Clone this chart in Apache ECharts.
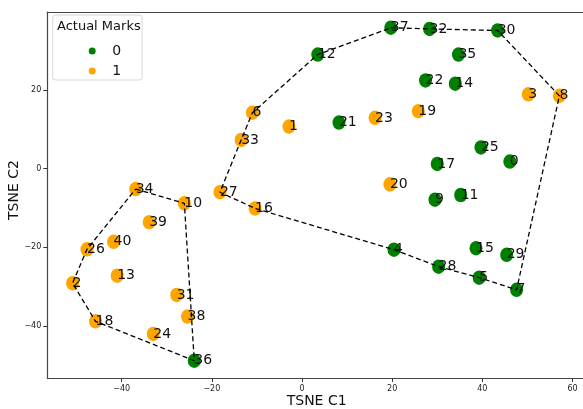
<!DOCTYPE html>
<html><head><meta charset="utf-8">
<script src="https://cdn.jsdelivr.net/npm/echarts@6/dist/echarts.min.js"></script>
<style>html,body{margin:0;padding:0;background:#fff}#c{width:583px;height:409px}</style>
</head><body><div id="c"></div>
<script>
// point id = index
const pointX = [46.1,-2.9,-50.9,50.2,20.4,39.3,-11.0,47.6,57.1,29.5,-26.1,35.2,3.5,-41.0,34.0,38.6,-10.4,30.0,-45.8,25.8,19.5,8.2,27.4,16.2,-33.0,39.7,-47.7,-18.2,30.3,45.4,43.4,-27.8,28.3,-13.5,-36.9,34.7,-23.9,19.7,-25.4,-33.9,-41.8];
const pointY = [1.8,10.7,-29.1,18.9,-20.6,-27.7,14.2,-30.8,18.5,-7.9,-8.8,-6.7,29.0,-27.2,21.6,-20.2,-10.1,1.2,-38.8,14.6,-4.0,11.7,22.4,12.9,-42.0,5.4,-20.5,-6.0,-24.9,-21.9,35.1,-32.1,35.5,7.3,-5.2,29.0,-48.8,35.8,-37.6,-13.6,-18.6];
const pointMark = [0,1,1,1,0,0,1,0,1,0, 1,0,0,1,0,0,1,0,1,1, 1,0,0,1,1,0,1,1,0,0, 0,1,0,1,1,0,0,0,1,1, 1];
const markNames = ['0','1'];
const markColors = ['#008000','#ffa500'];
const hullRight = [37,32,30,8,7,5,28,4,16,27,33,6,12,37];
const hullLeft = [34,10,36,18,2,26,34];
const xTicks = [-40,-20,0,20,40,60];
const yTicks = [-40,-20,0,20];

const chart = echarts.init(document.getElementById('c'), null, {renderer:'canvas'});
const fmt = v => (v < 0 ? '\u2212' + Math.abs(v) : '' + v);
const spine = {show: true, onZero: false, lineStyle: {color: '#444', width: 1.2}};

const scatterSeries = markNames.map((nm, k) => ({
  name: nm, type: 'scatter', z: 2,
  symbol: 'circle', symbolSize: [13, 14.5],
  itemStyle: {color: markColors[k], opacity: 1},
  data: pointX.map((x, i) => [x, pointY[i], i]).filter((d, i) => pointMark[i] === k),
  label: {show: true, position: 'inside', align: 'left', verticalAlign: 'middle',
    offset: [1, -5], formatter: p => '' + p.value[2], color: '#111',
    fontSize: 14, fontFamily: 'DejaVu Sans'},
  labelLayout: {hideOverlap: false},
  emphasis: {disabled: true}
}));
const hullSeries = [hullRight, hullLeft].map(h => ({
  type: 'line', z: 3, symbol: 'none', silent: true,
  data: h.map(i => [pointX[i], pointY[i]]),
  lineStyle: {color: '#000', width: 1.3, type: [5, 3]}
}));

chart.setOption({
  animation: false,
  backgroundColor: '#fff',
  textStyle: {fontFamily: 'DejaVu Sans'},
  grid: {left: 47.3, top: 12, right: -3, bottom: 31, outerBoundsMode: 'none', containLabel: false, show: false},
  title: {text: 'Actual Marks', left: 57, top: 20, padding: 0, z: 10,
    textStyle: {fontSize: 13, fontWeight: 'normal', color: '#111', fontFamily: 'DejaVu Sans'}},
  legend: {data: markNames, orient: 'vertical', left: 52.7, top: 15,
    padding: [29, 21, 2, 36], itemGap: 6, itemWidth: 30, itemHeight: 7,
    icon: 'circle', backgroundColor: 'rgba(255,255,255,0.85)', borderColor: '#d8d8d8', borderWidth: 1, borderRadius: 3,
    textStyle: {fontSize: 14, color: '#111', fontFamily: 'DejaVu Sans'}},
  xAxis: [{type: 'value', position: 'bottom', min: -56.5, max: 63, splitLine: {show: false},
    name: 'TSNE C1', nameLocation: 'middle', nameGap: 16, nameMoveOverlap: false,
    nameTextStyle: {fontSize: 14, color: '#111'},
    axisLine: spine,
    axisTick: {show: true, length: 4, customValues: xTicks, lineStyle: {color: '#333'}},
    axisLabel: {customValues: xTicks, formatter: fmt, fontSize: 8, color: '#222', margin: 7}},
   {type: 'value', position: 'top', min: -56.5, max: 63, splitLine: {show: false},
    axisLine: spine, axisTick: {show: false}, axisLabel: {show: false}}],
  yAxis: {type: 'value', min: -53.2, max: 39.8, splitLine: {show: false},
    name: 'TSNE C2', nameLocation: 'middle', nameGap: 26, nameMoveOverlap: false,
    nameTextStyle: {fontSize: 14, color: '#111', padding: [0, 0, 0, 10]},
    axisLine: spine,
    axisTick: {show: true, length: 4, customValues: yTicks, lineStyle: {color: '#333'}},
    axisLabel: {customValues: yTicks, formatter: fmt, fontSize: 8, color: '#222', margin: 6}},
  series: [...scatterSeries, ...hullSeries]
});
</script></body></html>
